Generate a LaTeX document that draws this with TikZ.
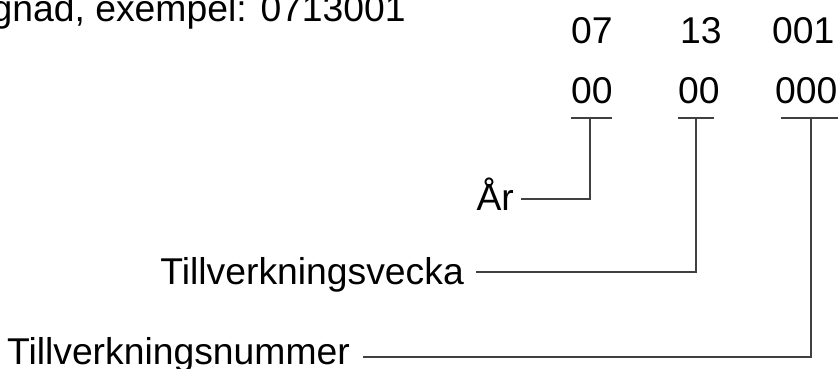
\documentclass[tikz,border=0pt]{standalone}
\usepackage{fontspec}
\setmainfont{Liberation Sans}
\begin{document}
\begin{tikzpicture}[x=1pt,y=-1pt,
  lbl/.style={inner sep=0pt,font=\fontsize{37.3}{44}\selectfont},
  conn/.style={draw=black!75,line width=2pt}]
\useasboundingbox (0,0) rectangle (838,369);
\clip (0,0) rectangle (838,369);
% header
\node[lbl,anchor=base east] (head) at (406,22) {uppbyggnad, exempel: 0713001};
% example digits
\node[lbl,anchor=base west] (e1) at (571,44) {07};
\node[lbl,anchor=base west] (e2) at (680,44) {13};
\node[lbl,anchor=base west] (e3) at (772,44) {001};
% format digits
\node[lbl,anchor=base west] (f1) at (571,103) {00};
\node[lbl,anchor=base west] (f2) at (678,103) {00};
\node[lbl,anchor=base west] (f3) at (775,103) {000};
% underlines
\coordinate (u1l) at (571,118); \coordinate (u1r) at (612,118); \coordinate (u1) at (590,118);
\coordinate (u2l) at (678,118); \coordinate (u2r) at (714,118); \coordinate (u2) at (696,118);
\coordinate (u3l) at (781,118); \coordinate (u3r) at (840,118); \coordinate (u3) at (811,118);
\draw[conn] (u1l) -- (u1r);
\draw[conn] (u2l) -- (u2r);
\draw[conn] (u3l) -- (u3r);
% labels
\node[lbl,anchor=base east] (ar) at (514,210) {År};
\node[lbl,anchor=base east] (vecka) at (464,284) {Tillverkningsvecka};
\node[lbl,anchor=base east] (nummer) at (350,364) {Tillverkningsnummer};
\coordinate (arend) at (521,199);
\coordinate (veckaend) at (476,272);
\coordinate (nummerend) at (363,357);
\draw[conn] (arend) -| (u1);
\draw[conn] (veckaend) -| (u2);
\draw[conn] (nummerend) -| (u3);
\end{tikzpicture}
\end{document}
